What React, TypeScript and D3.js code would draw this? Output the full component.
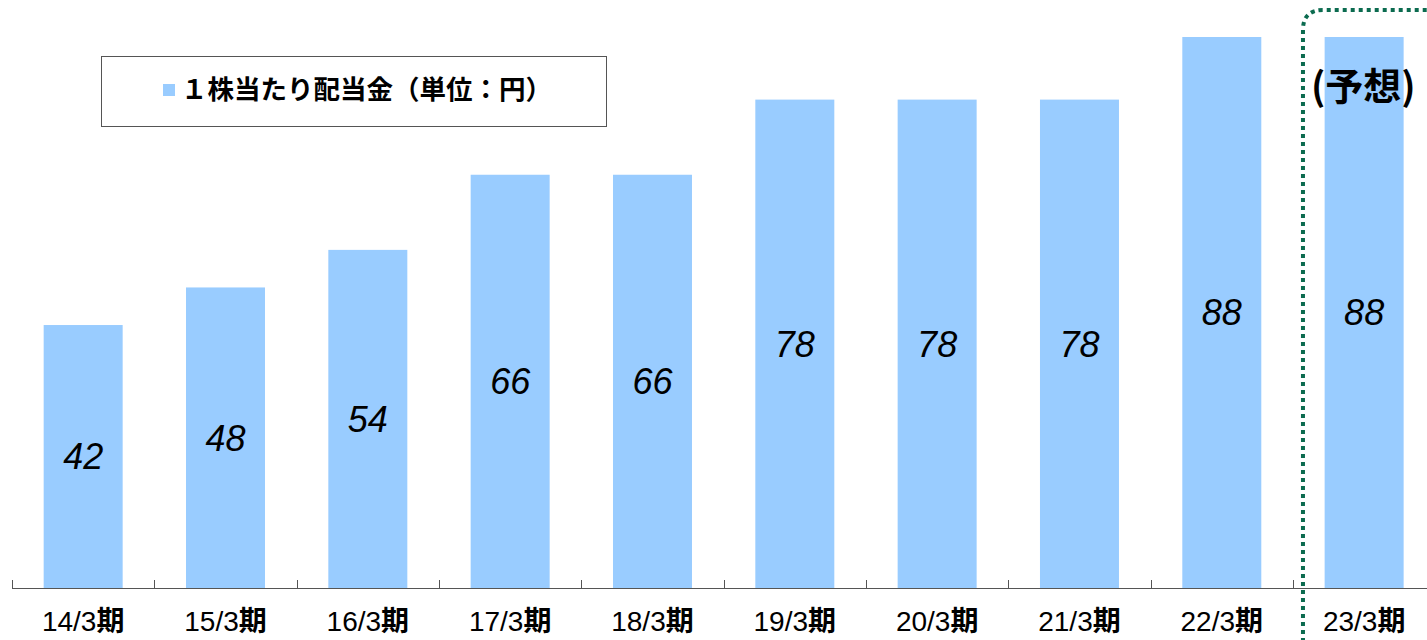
import React from "react";
import * as d3 from "d3";

const categories = ["14/3", "15/3", "16/3", "17/3", "18/3", "19/3", "20/3", "21/3", "22/3", "23/3"];
const dividends = [42, 48, 54, 66, 66, 78, 78, 78, 88, 88];
const legendLabel = "１株当たり配当金（単位：円）";
const forecastLabel = "(予想)";

const W = 1427;
const H = 640;
const margin = { left: 12, top: 37, bottom: 52 };
const step = 142.33;

const BAR = "#99ccff";
const GREEN = "#0b6b4f";
const LATIN = "'Liberation Sans', Arial, sans-serif";
const CJK = "'Noto Sans CJK JP', 'Liberation Sans', sans-serif";

export default function App() {
  const baseY = H - margin.bottom;

  const x = d3
    .scaleBand<string>()
    .domain(categories)
    .range([margin.left, margin.left + step * categories.length])
    .paddingInner(0.445)
    .paddingOuter(0.2225);

  const y = d3
    .scaleLinear()
    .domain([0, d3.max(dividends) as number])
    .range([baseY, margin.top]);

  const tickXs = d3.range(categories.length + 1).map((i) => margin.left + i * x.step());

  const lastX = x(categories[categories.length - 1]) as number;
  const boxLeft = lastX - x.step() * 0.2225 + 10; // dotted frame around the forecast
  const boxTop = 10;
  const r = 20;
  const framePath = `M${boxLeft},${H + 10} L${boxLeft},${boxTop + r} Q${boxLeft},${boxTop} ${boxLeft + r},${boxTop} L${W + 10},${boxTop}`;

  return (
    <svg width={W} height={H} style={{ position: "absolute", left: 0, top: 0, background: "#fff" }}>
      {/* bars */}
      <g>
        {dividends.map((d, i) => (
          <rect
            key={categories[i]}
            x={x(categories[i])}
            y={y(d)}
            width={x.bandwidth()}
            height={baseY - y(d)}
            fill={BAR}
          />
        ))}
      </g>

      {/* value labels, centered in bar */}
      <g fontFamily={LATIN} fontStyle="italic" fontSize={36} textAnchor="middle" fill="#000">
        {dividends.map((d, i) => (
          <text
            key={categories[i]}
            x={(x(categories[i]) as number) + x.bandwidth() / 2}
            y={(y(d) + baseY) / 2}
            dy="0.36em"
          >
            {d}
          </text>
        ))}
      </g>

      {/* axis */}
      <g stroke="#555" strokeWidth={1}>
        <line x1={margin.left} x2={W} y1={baseY + 0.5} y2={baseY + 0.5} />
        {tickXs.map((tx) => (
          <line key={tx} x1={Math.round(tx) + 0.5} x2={Math.round(tx) + 0.5} y1={baseY - 8} y2={baseY} />
        ))}
      </g>

      <g fontSize={28} textAnchor="middle" fill="#000">
        {categories.map((c) => (
          <text key={c} x={(x(c) as number) + x.bandwidth() / 2} y={631}>
            <tspan fontFamily={LATIN}>{c}</tspan>
            <tspan fontFamily={CJK} fontWeight="bold">期</tspan>
          </text>
        ))}
      </g>

      {/* legend */}
      <rect x={101.5} y={56.5} width={505} height={70} fill="#fff" stroke="#555" strokeWidth={1} />
      <rect x={163} y={84} width={12} height={12} fill={BAR} />
      <text x={181} y={99} fontFamily={CJK} fontWeight="bold" fontSize={26.5} fill="#000">
        {legendLabel}
      </text>

      {/* forecast frame */}
      <path d={framePath} fill="none" stroke={GREEN} strokeWidth={4} strokeDasharray="4,4" />
      <text x={1311} y={100} fontFamily={CJK} fontWeight="bold" fontSize={38} fill="#000">
        {forecastLabel}
      </text>
    </svg>
  );
}
